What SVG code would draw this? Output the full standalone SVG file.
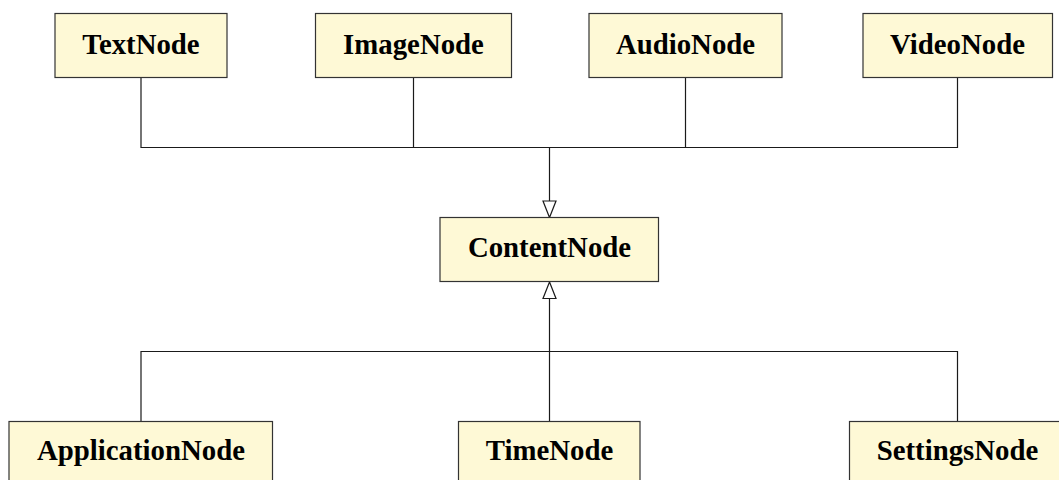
<svg xmlns="http://www.w3.org/2000/svg" width="1059" height="480" viewBox="0 0 1059 480">
  <style>
    .box { fill: #fef9d6; stroke: #333333; stroke-width: 1.2; }
    .label { font-family: "Liberation Serif", "Times New Roman", serif; font-weight: bold; font-size: 28.8px; fill: #000000; text-anchor: middle; }
    .wire { fill: none; stroke: #1a1a1a; stroke-width: 1.2; }
    .head { fill: #ffffff; stroke: #1a1a1a; stroke-width: 1.2; }
  </style>
  <rect width="1059" height="480" fill="#ffffff"/>

  <!-- inheritance connectors -->
  <g id="connectors">
    <!-- subclasses above -->
    <path class="wire" d="M141 77.5 V147.5 H957.5 V77.5"/>
    <path class="wire" d="M413.5 77.5 V147.5"/>
    <path class="wire" d="M685.5 77.5 V147.5"/>
    <path class="wire" d="M549.5 147.5 V201"/>
    <polygon class="head" points="549.5,217.5 543,201 556,201"/>
    <!-- subclasses below -->
    <path class="wire" d="M141 421.5 V351.5 H957.5 V421.5"/>
    <path class="wire" d="M549.5 421.5 V298.5"/>
    <polygon class="head" points="549.5,282 543,298.5 556,298.5"/>
  </g>

  <g id="TextNode">
    <rect class="box" x="55" y="13.5" width="172" height="64"/>
    <text class="label" x="141" y="54">TextNode</text>
  </g>
  <g id="ImageNode">
    <rect class="box" x="315.5" y="13.5" width="196" height="64"/>
    <text class="label" x="413.5" y="54">ImageNode</text>
  </g>
  <g id="AudioNode">
    <rect class="box" x="589" y="13.5" width="193" height="64"/>
    <text class="label" x="685.5" y="54">AudioNode</text>
  </g>
  <g id="VideoNode">
    <rect class="box" x="863" y="13.5" width="189.5" height="64"/>
    <text class="label" x="957.5" y="54">VideoNode</text>
  </g>
  <g id="ContentNode">
    <rect class="box" x="440" y="217.5" width="218.5" height="64"/>
    <text class="label" x="549.5" y="257">ContentNode</text>
  </g>
  <g id="ApplicationNode">
    <rect class="box" x="9" y="421.5" width="263.5" height="64"/>
    <text class="label" x="141" y="460">ApplicationNode</text>
  </g>
  <g id="TimeNode">
    <rect class="box" x="458.5" y="421.5" width="181.5" height="64"/>
    <text class="label" x="549.5" y="460">TimeNode</text>
  </g>
  <g id="SettingsNode">
    <rect class="box" x="849.5" y="421.5" width="216" height="64"/>
    <text class="label" x="957.5" y="460">SettingsNode</text>
  </g>
</svg>
